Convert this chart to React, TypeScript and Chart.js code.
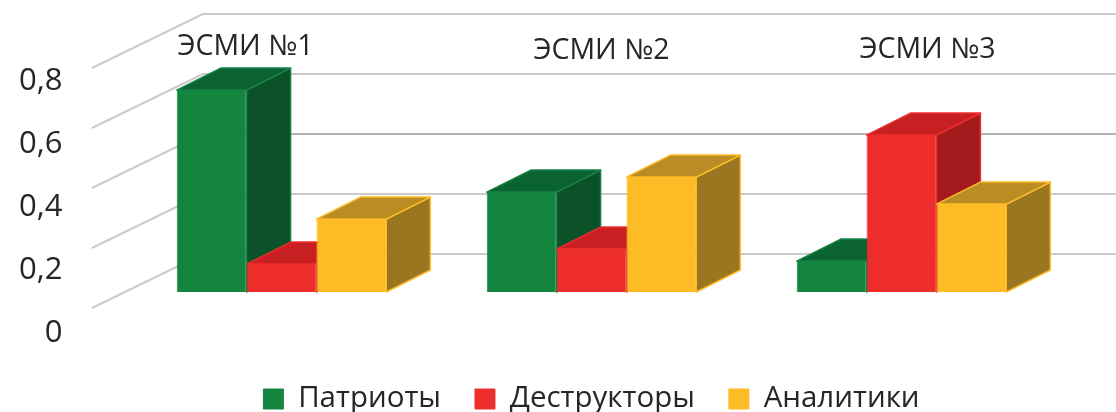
import React, { useEffect, useRef } from "react";
import { Chart, registerables } from "chart.js";

Chart.register(...registerables);

const categories = ["ЭСМИ №1", "ЭСМИ №2", "ЭСМИ №3"];
const seriesNames = ["Патриоты", "Деструкторы", "Аналитики"];
const patriots = [0.673, 0.333, 0.103];
const destructors = [0.093, 0.143, 0.523];
const analysts = [0.243, 0.383, 0.293];
const yTickValues = [0, 0.2, 0.4, 0.6, 0.8];
const yTickLabels = ["0", "0,2", "0,4", "0,6", "0,8"];

const FONT = '"Open Sans", sans-serif';
const frontColors = ["#13853f", "#ee2e2d", "#fdbb26"];
const topColors = ["#0b6331", "#c82022", "#ba8d24"];
const sideColors = ["#0c5228", "#a41b1e", "#9a7620"];
const edgeColors = ["#17834a", "#ee2e2d", "#fdbb26"];
const DX = 44;
const DY = 22;

const categoryOffsets = [{ x: -36, y: 47 }, { x: 10, y: 51 }, { x: 26, y: 50 }];

const threeD = {
  id: "threeD",
  beforeDatasetsDraw(chart: any) {
    const { ctx, width } = chart;
    const y = chart.scales.y;
    const wallLeft = 92;
    const wallBack = 203;
    ctx.save();
    yTickValues.forEach((v) => {
      const p = y.getPixelForValue(v);
      ctx.lineWidth = 2;
      ctx.strokeStyle = "#cbcbcb";
      ctx.beginPath();
      ctx.moveTo(wallLeft, p + 16);
      ctx.lineTo(wallBack, p - 38);
      ctx.stroke();
      ctx.strokeStyle = v === 0.4 ? "#b4b4b4" : "#cbcbcb";
      ctx.beginPath();
      ctx.moveTo(wallBack, p - 38);
      ctx.lineTo(width, p - 38);
      ctx.stroke();
    });
    categories.forEach((_, i) => {
      chart.data.datasets.forEach((_d: any, di: number) => {
        const bar = chart.getDatasetMeta(di).data[i];
        const l = bar.x - bar.width / 2;
        const r = bar.x + bar.width / 2;
        const t = bar.y;
        const b = bar.base;
        ctx.lineWidth = 1.5;
        ctx.lineJoin = "round";
        ctx.strokeStyle = edgeColors[di];
        ctx.fillStyle = sideColors[di];
        ctx.beginPath();
        ctx.moveTo(r, t);
        ctx.lineTo(r + DX, t - DY);
        ctx.lineTo(r + DX, b - DY);
        ctx.lineTo(r, b);
        ctx.closePath();
        ctx.fill();
        ctx.stroke();
        ctx.fillStyle = topColors[di];
        ctx.beginPath();
        ctx.moveTo(l, t);
        ctx.lineTo(l + DX, t - DY);
        ctx.lineTo(r + DX, t - DY);
        ctx.lineTo(r, t);
        ctx.closePath();
        ctx.fill();
        ctx.stroke();
      });
    });
    ctx.restore();
  },
  afterDatasetsDraw(chart: any) {
    const { ctx } = chart;
    const x = chart.scales.x;
    ctx.save();
    ctx.font = `28.5px ${FONT}`;
    ctx.fillStyle = "#262626";
    ctx.textAlign = "center";
    ctx.textBaseline = "middle";
    categories.forEach((c, i) => {
      ctx.fillText(c, x.getPixelForTick(i) + categoryOffsets[i].x, categoryOffsets[i].y);
    });
    ctx.restore();
  },
};

export default function App() {
  const ref = useRef<HTMLCanvasElement>(null);
  useEffect(() => {
    const series = [patriots, destructors, analysts];
    const chart = new Chart(ref.current as HTMLCanvasElement, {
      type: "bar",
      data: {
        labels: categories,
        datasets: seriesNames.map((name, i) => ({
          label: name,
          data: series[i],
          backgroundColor: frontColors[i],
          borderColor: frontColors[i],
          borderWidth: 1,
          categoryPercentage: 0.676,
          barPercentage: 1,
          yAxisID: "y",
        })),
      },
      options: {
        responsive: false,
        animation: false,
        layout: { padding: { top: 0, right: 59.5, bottom: -11.75, left: 0 } },
        scales: {
          x: { display: false },
          y: { display: false, min: -0.1942, max: 0.9113 },
          yTicks: {
            position: "left",
            min: -0.0548,
            max: 0.9981,
            grid: {
              display: true,
              drawOnChartArea: false,
              drawTicks: true,
              tickLength: 64,
              tickColor: "rgba(0,0,0,0)",
            },
            border: { display: false },
            afterBuildTicks(scale: any) {
              scale.ticks = yTickValues.map((value) => ({ value }));
            },
            afterFit(scale: any) {
              scale.width = 126.5;
            },
            ticks: {
              autoSkip: false,
              padding: 0,
              color: "#262626",
              font: { family: FONT, size: 31 },
              callback(value: any) {
                return yTickLabels[yTickValues.indexOf(value)];
              },
            },
          },
        },
        plugins: {
          title: { display: false },
          tooltip: { enabled: false },
          legend: {
            position: "bottom",
            fullSize: false,
            labels: {
              boxWidth: 20,
              boxHeight: 20,
              padding: 34,
              color: "#262626",
              font: { family: FONT, size: 29.5 },
            },
          },
        },
      } as any,
      plugins: [threeD],
    } as any);
    return () => chart.destroy();
  }, []);
  return (
    <div style={{ position: "absolute", left: 0, top: 0, width: 1116, height: 412 }}>
      <canvas ref={ref} width={1116} height={412} style={{ display: "block" }} />
    </div>
  );
}
